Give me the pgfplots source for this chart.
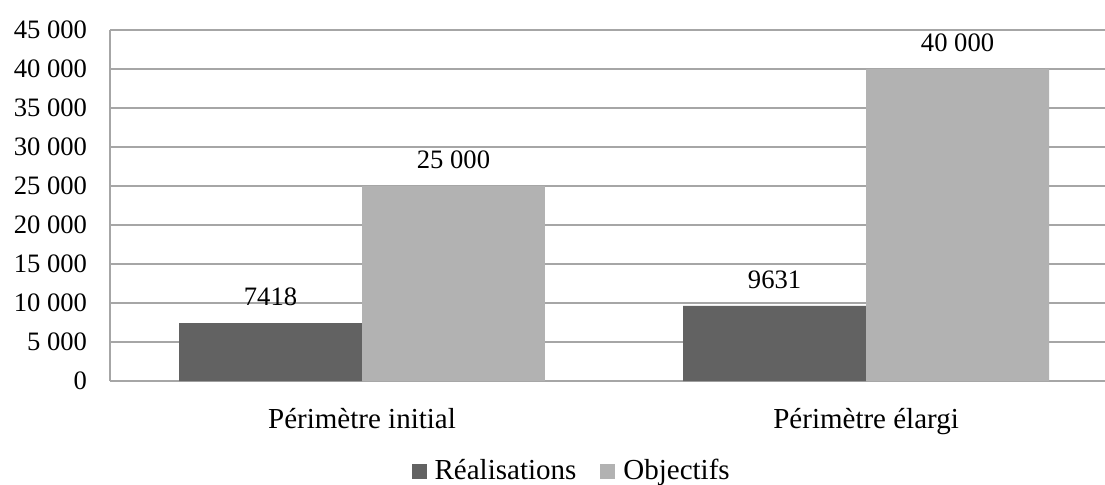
\documentclass[border=0pt]{standalone}
\usepackage{fontspec}
\setmainfont{Liberation Serif}
\usepackage{pgfplots}
\pgfplotsset{compat=1.18}
\definecolor{darkbar}{HTML}{626262}
\definecolor{lightbar}{HTML}{B2B2B2}
\definecolor{gridgray}{HTML}{A6A6A6}
\begin{document}
\begin{tikzpicture}[font=\fontsize{13.3}{15}\selectfont]
\begin{axis}[
  scale only axis,
  width=497.5pt, height=175.5pt,
  ybar=0pt,
  bar width=0.363,
  xmin=-0.5, xmax=1.474,
  ymin=0, ymax=45000,
  ytick distance=5000,
  scaled y ticks=false,
  enlargelimits=false,
  xtick={0,1},
  xticklabels={Périmètre initial, Périmètre élargi},
  xticklabel style={yshift=-10pt, font=\fontsize{14.5}{16}\selectfont},
  yticklabel style={xshift=-8pt},
  major tick length=0pt,
  axis x line*=bottom,
  axis y line*=left,
  axis line style={gridgray, line width=0.9pt},
  ymajorgrids,
  grid style={gridgray, line width=0.9pt},
  /pgf/number format/.cd, 1000 sep={\ }, assume math mode=true, /pgfplots/.cd,
  legend columns=2,
  legend style={at={(0.465,0)}, anchor=center, yshift=-45pt, draw=none,
    font=\fontsize{14.5}{16}\selectfont,
    /tikz/every even column/.append style={column sep=10pt}},
  legend image code/.code={\fill[#1] (0pt,-3.8pt) rectangle (7.5pt,3.7pt);
    \path (9.5pt,0pt);},
  every node near coord/.append style={yshift=5pt, text=black},
]
\addplot[fill=darkbar, draw=none, bar shift=-0.1815,
  nodes near coords={\pgfmathprintnumber[1000 sep={}]{\pgfplotspointmeta}}]
  coordinates {(0,7418) (1,9631)};
\addplot[fill=lightbar, draw=none, bar shift=0.1815, nodes near coords]
  coordinates {(0,25000) (1,40000)};
\legend{Réalisations, Objectifs}
\end{axis}
\pgfresetboundingbox
\path[use as bounding box] (-55pt,-51.5pt) rectangle (497.5pt,190.5pt);
\end{tikzpicture}
\end{document}
